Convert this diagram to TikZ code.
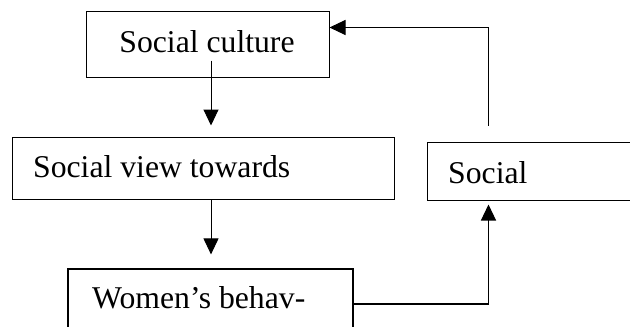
\documentclass[tikz,border=0pt]{standalone}
\usepackage{fontspec}
\setmainfont{Liberation Serif}
\usetikzlibrary{arrows.meta,calc}
\tikzset{
  box/.style={draw=black, line width=1pt, rectangle, inner sep=0pt, fill=none},
  txt/.style={inner sep=0pt, font=\fontsize{31.7}{38}\selectfont},
  arr/.style={line width=1pt, -{Triangle[width=15pt,length=16pt]}},
}
\begin{document}
\begin{tikzpicture}[x=1pt,y=-1pt]
\useasboundingbox (0,0) rectangle (630,327);
\fill[white] (0,0) rectangle (630,327);
\clip (0,0) rectangle (630,327);
% boxes
\node[box, minimum width=243pt, minimum height=66pt] (culture) at (207.5,44) {};
\node[box, minimum width=382pt, minimum height=62pt] (view) at (203,168) {};
\node[box, minimum width=273pt, minimum height=58pt] (social) at (563.5,171) {};
\node[box, line width=1.2pt, minimum width=285pt, minimum height=101pt] (women) at (210.5,319.5) {};
% texts
\node[txt, anchor=base] (tculture) at (207,52) {Social culture};
\node[txt, anchor=base west] (tview) at (33,177) {Social view towards};
\node[txt, anchor=base west] (tsocial) at (448,183) {Social};
\node[txt, anchor=base west] (twomen) at (92,308) {Women’s behav-};
% connectors
\draw[arr] ($(culture.south)+(3.5,-17)$) -- ($(view.north)+(8,-11)$);
\draw[arr] ($(view.south)+(8,0)$) -- ($(women.north)+(0.5,-14)$);
\draw[arr, line width=1.2pt] ($(women.east)+(0,-15.5)$) -| ($(social.south west)+(62,4)$);
\draw[arr] ($(social.north west)+(62,-16)$) |- ($(culture.north east)+(0,17)$);
\end{tikzpicture}
\end{document}
